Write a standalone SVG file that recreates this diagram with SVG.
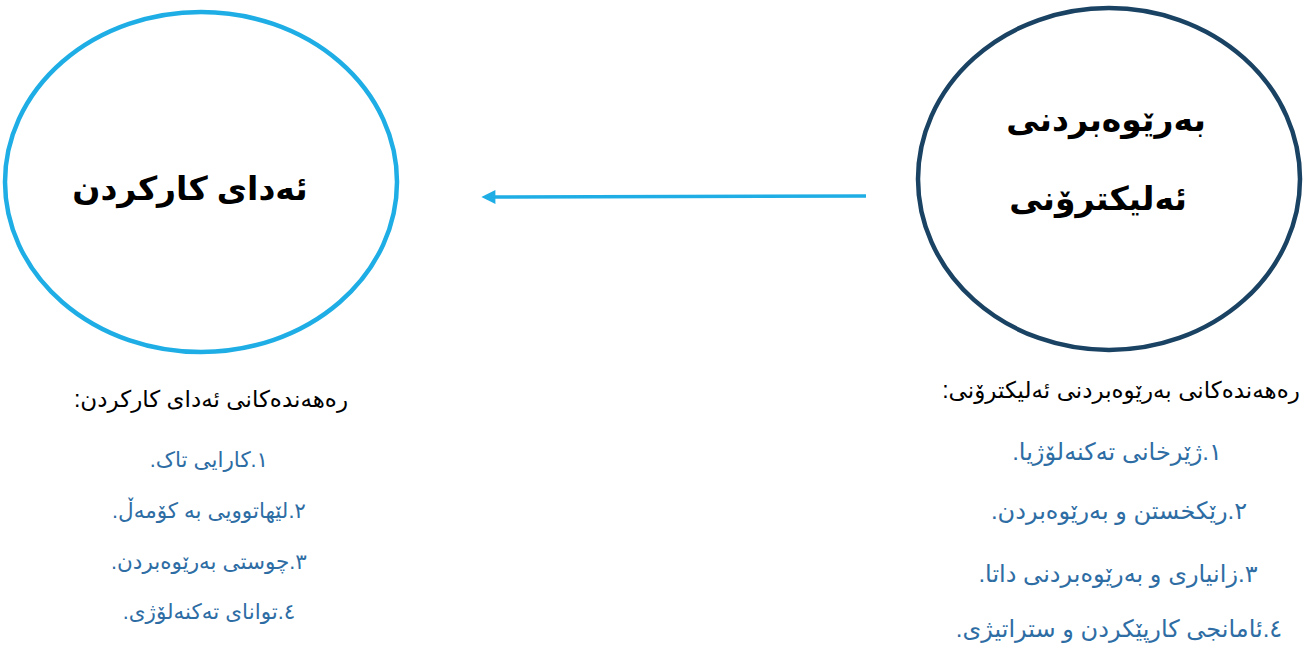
<svg xmlns="http://www.w3.org/2000/svg" width="1309" height="648" viewBox="0 0 1309 648">
<style>
text{font-family:"Liberation Sans","DejaVu Sans",sans-serif;text-anchor:middle;direction:rtl;unicode-bidi:embed}
.big{font-size:33px;font-weight:bold;fill:#000}
.ttl{font-size:23px;fill:#000}
.itm{font-size:21.5px;fill:#2E6DA4}
.itmR{font-size:24px;fill:#2E6DA4}
</style>
<defs>
<marker id="ah" viewBox="0 0 10 10" refX="1" refY="5" markerWidth="4.5" markerHeight="4" orient="auto" markerUnits="strokeWidth">
<path d="M0,0 L10,5 L0,10 z" fill="#1EAEE5"/>
</marker>
</defs>
<rect width="1309" height="648" fill="#fff"/>
<g id="connectors">
<line x1="866" y1="196" x2="494" y2="197" stroke="#1EAEE5" stroke-width="3.5" marker-end="url(#ah)"/>
</g>
<g id="node-performance">
<ellipse cx="201" cy="182" rx="196" ry="170" fill="#fff" stroke="#1EAEE5" stroke-width="4.5"/>
<text class="big" x="190" y="200">ئەدای کارکردن</text>
</g>
<g id="node-egov">
<ellipse cx="1109" cy="179" rx="191" ry="171" fill="#fff" stroke="#1A4263" stroke-width="4.5"/>
<text class="big" x="1106" y="131">بەرێوەبردنی</text>
<text class="big" x="1098" y="210">ئەلیکترۆنی</text>
</g>
<g id="list-performance">
<text class="ttl" x="211" y="407">رەهەندەکانی ئەدای کارکردن:</text>
<text class="itm" x="209" y="467">١.کارایی تاک.</text>
<text class="itm" x="209" y="518">٢.لێهاتوویی بە کۆمەڵ.</text>
<text class="itm" x="209" y="569">٣.چوستی بەرێوەبردن.</text>
<text class="itm" x="209" y="619">٤.توانای تەکنەلۆژی.</text>
</g>
<g id="list-egov">
<text class="ttl" x="1121" y="398">رەهەندەکانی بەرێوەبردنی ئەلیکترۆنی:</text>
<text class="itmR" x="1117" y="460">١.ژێرخانی تەکنەلۆژیا.</text>
<text class="itmR" x="1119" y="519">٢.رێکخستن و بەرێوەبردن.</text>
<text class="itmR" x="1118" y="582">٣.زانیاری و بەرێوەبردنی داتا.</text>
<text class="itmR" x="1119" y="637">٤.ئامانجی کارپێکردن و ستراتیژی.</text>
</g>
</svg>
